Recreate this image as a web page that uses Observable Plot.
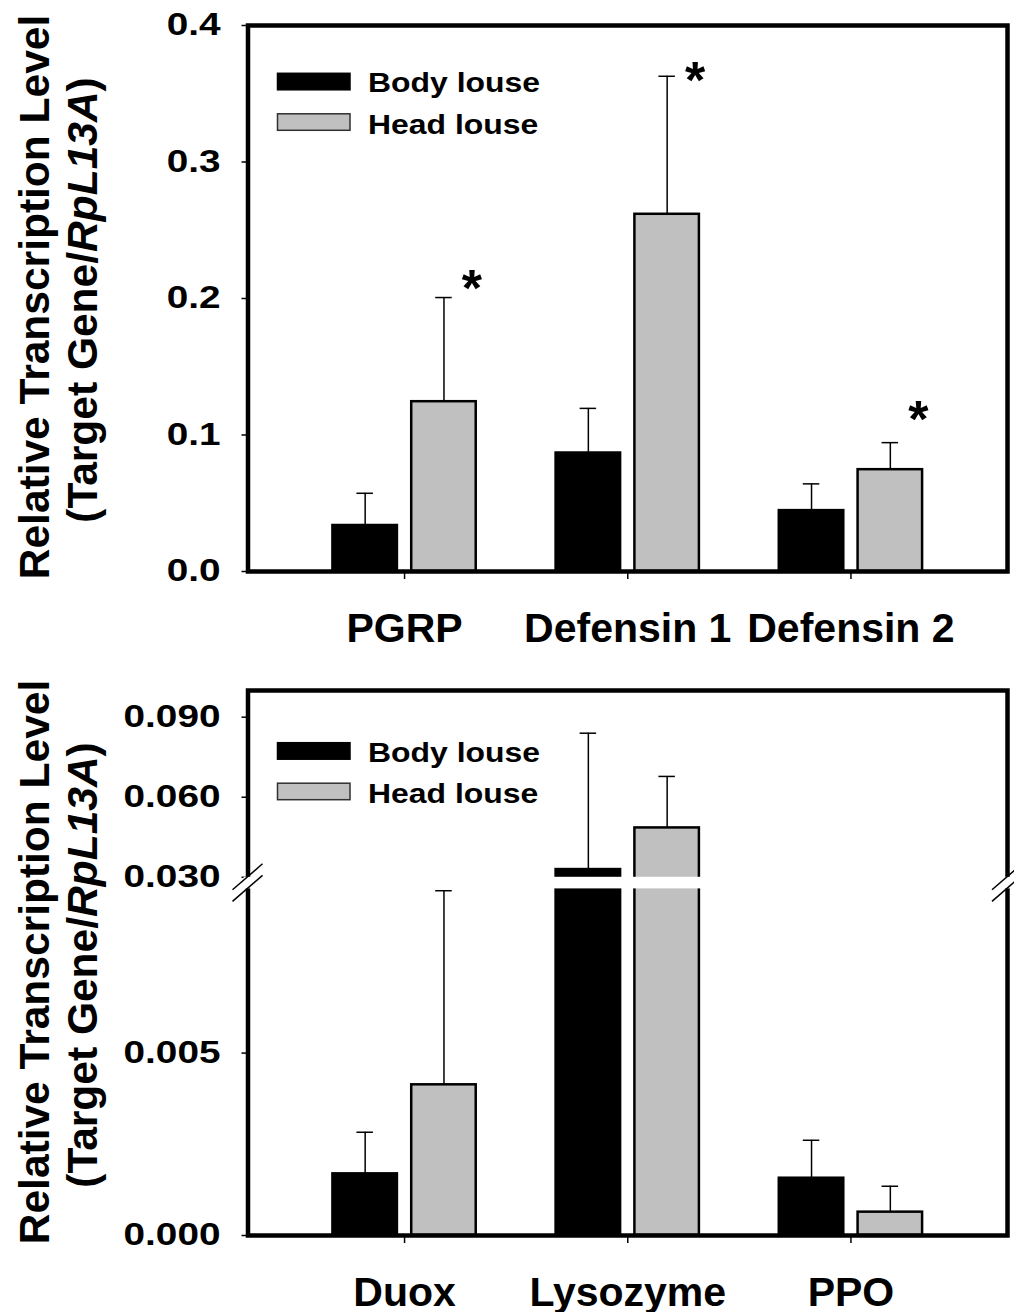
<!DOCTYPE html>
<html><head><meta charset="utf-8">
<script src="https://cdn.jsdelivr.net/npm/d3@7"></script>
<script src="https://cdn.jsdelivr.net/npm/@observablehq/plot@0.6"></script>
<style>
body{margin:0;background:#fff;}
#wrap{width:1014px;background:#fff;}
#wrap svg{display:block;}
</style></head><body><div id="wrap"></div>
<script>
const FONT = "'Liberation Sans', Arial, Helvetica, sans-serif";

// ---- data ----
const groups = ["Body louse", "Head louse"];
const groupColors = ["#000000", "#c0c0c0"];

const topGenes = ["PGRP", "Defensin 1", "Defensin 2"];
const topBody = [0.0337, 0.0868, 0.0446];
const topBodySE = [0.0236, 0.0327, 0.0196];
const topHead = [0.1244, 0.2617, 0.0746];
const topHeadSE = [0.0763, 0.1011, 0.0198];
const topSig = [0.2130, 0.3660, 0.1170];   // height of the significance asterisk
const topTicks = [0, 0.1, 0.2, 0.3, 0.4];

const botGenes = ["Duox", "Lysozyme", "PPO"];
const botBody = [0.00169, 0.0329, 0.00157];
const botBodySE = [0.00114, 0.0511, 0.00104];
const botHead = [0.00413, 0.0485, 0.00064];
const botHeadSE = [0.00532, 0.0193, 0.00071];
const botTicks = [0, 0.005, 0.03, 0.06, 0.09];
const botBreak = [0.0095, 0.03];           // broken axis: lower segment ends, upper segment starts
const botMax = 0.1;

function rows(genes, body, bodySE, head, headSE, sig) {
  const out = [];
  genes.forEach((g, i) => {
    out.push({gene: g, group: groups[0], value: body[i], se: bodySE[i], sig: null});
    out.push({gene: g, group: groups[1], value: head[i], se: headSE[i], sig: sig ? sig[i] : null});
  });
  return out;
}
const topData = rows(topGenes, topBody, topBodySE, topHead, topHeadSE, topSig);
const botData = rows(botGenes, botBody, botBodySE, botHead, botHeadSE, null);

// broken-axis mapping for the lower panel: lower segment kept as is,
// a thin gap for the break, upper segment compressed
const GAP = 0.000318, UPPER = 0.07314;
function brokenY(v) {
  const [b0, b1] = botBreak;
  if (v <= b0) return v;
  if (v < b1) return b0 + (v - b0) / (b1 - b0) * GAP;
  return b0 + GAP + (v - b1) * UPPER;
}

// ---- layout ----
const W = 1014;
const ML = 247.5, MR = 7;
const OFFSET = [-39.4, 39.4];   // horizontal shift of each series inside a gene group
const XS = {paddingInner: 0.711, paddingOuter: 0.557, round: false, label: null};

function groupMarks(data, f) {
  const marks = [];
  groups.forEach((g, i) => {
    const sub = data.filter(d => d.group === g);
    const dx = OFFSET[i];
    marks.push(
      Plot.ruleX(sub, {x: "gene", y1: d => f(d.value), y2: d => f(d.value + d.se), dx, stroke: "black", strokeWidth: 1.5}),
      Plot.tickY(sub, {x: "gene", y: d => f(d.value + d.se), dx, insetLeft: 24, insetRight: 24, stroke: "black", strokeWidth: 1.5}),
      Plot.barY(sub, {x: "gene", y1: 0, y2: d => f(d.value), dx, fill: "group", stroke: "black", strokeWidth: 2.5})
    );
  });
  return marks;
}
const xAxis = () => Plot.axisX({tickSize: 8, tickPadding: 33, fontSize: 41, strokeWidth: 1.5, label: null});

const topH = 655;
const topChart = Plot.plot({
  width: W, height: topH,
  marginLeft: ML, marginRight: MR, marginTop: 25, marginBottom: 84,
  style: {fontFamily: FONT, fontWeight: "bold", background: "white", overflow: "visible"},
  x: {...XS, domain: topGenes},
  y: {domain: [0, 0.4], label: null},
  color: {domain: groups, range: groupColors},
  marks: [
    ...groupMarks(topData, v => v),
    Plot.text(topData.filter(d => d.sig != null), {x: "gene", y: "sig", text: () => "*", fontSize: 52, dx: OFFSET[1] + 28, dy: 9, fill: "black"}),
    Plot.axisY({ticks: topTicks, tickFormat: ".1f", tickSize: 6, tickPadding: 21.5, fontSize: 31, strokeWidth: 1.5, label: null}),
    xAxis(),
    Plot.frame({stroke: "black", strokeWidth: 4.5})
  ]
});

const botH = 657;
const botTickLabel = new Map(botTicks.map(t => [brokenY(t), d3.format(".3f")(t)]));
const botChart = Plot.plot({
  width: W, height: botH,
  marginLeft: ML, marginRight: MR, marginTop: 35, marginBottom: 77,
  style: {fontFamily: FONT, fontWeight: "bold", background: "white", overflow: "visible"},
  x: {...XS, domain: botGenes},
  y: {domain: [0, brokenY(botMax)], label: null},
  color: {domain: groups, range: groupColors},
  marks: [
    ...groupMarks(botData, brokenY),
    // white gap through the bars that cross the axis break
    ...groups.map((g, i) => Plot.barY(botData.filter(d => d.group === g && d.value > botBreak[1]),
      {x: "gene", y1: brokenY(botBreak[0]), y2: brokenY(botBreak[1]), dx: OFFSET[i], fill: "white", insetLeft: -3, insetRight: -3})),
    Plot.axisY({ticks: botTicks.map(brokenY), tickFormat: u => botTickLabel.get(u), tickSize: 6, tickPadding: 21.5, fontSize: 31, strokeWidth: 1.5, label: null}),
    xAxis(),
    Plot.frame({stroke: "black", strokeWidth: 4.5})
  ]
});

const wrap = document.getElementById("wrap");
wrap.appendChild(topChart);
wrap.appendChild(botChart);

// ---- decorations ----
function stretch(svg, sel, s) {
  d3.select(svg).selectAll(sel).each(function () {
    const L = this.getComputedTextLength();
    if (L > 0) {
      this.setAttribute("textLength", L * s);
      this.setAttribute("lengthAdjust", "spacingAndGlyphs");
    }
  });
}

function yTitle(svg, cy) {
  const g = d3.select(svg).append("g")
    .attr("font-family", FONT).attr("font-weight", "bold").attr("font-size", 42.5)
    .attr("fill", "black").attr("text-anchor", "middle");
  g.append("text").attr("transform", `translate(49,${cy}) rotate(-90)`).text("Relative Transcription Level");
  const t2 = g.append("text").attr("transform", `translate(96.5,${cy + 3}) rotate(-90)`);
  t2.append("tspan").text("(Target Gene/");
  t2.append("tspan").attr("font-style", "italic").text("RpL13A");
  t2.append("tspan").text(")");
}

function legend(svg, chart, y0, textY0) {
  const color = chart.scale("color");
  const g = d3.select(svg).append("g").attr("font-family", FONT).attr("font-weight", "bold").attr("text-anchor", "start");
  groups.forEach((name, i) => {
    const y = y0 + i * 40.5;
    g.append("rect").attr("x", 277.5).attr("y", y).attr("width", 72.5).attr("height", 16.5)
      .attr("fill", color.apply(name)).attr("stroke", i === 0 ? "black" : "#303030").attr("stroke-width", 1.5);
    g.append("text").attr("transform", `translate(368,${textY0 + i * 41.5 + 10}) scale(1.12,1)`)
      .attr("font-size", 28.5).attr("fill", "black").text(name);
  });
}

function axisBreak(svg, chart) {
  const y = chart.scale("y");
  const yHi = y.apply(brokenY(botBreak[1])), yLo = y.apply(brokenY(botBreak[0]));
  const g = d3.select(svg).append("g");
  [ML, W - MR].forEach(x => {
    g.append("rect").attr("x", x - 4).attr("y", yHi).attr("width", 8).attr("height", yLo - yHi).attr("fill", "white");
    [yHi, yLo].forEach(yy => {
      g.append("line").attr("x1", x - 15).attr("y1", yy + 13).attr("x2", x + 15).attr("y2", yy - 13)
        .attr("stroke", "black").attr("stroke-width", 1.5);
    });
  });
}

stretch(topChart, 'g[aria-label="y-axis tick label"] text', 1.25);
stretch(botChart, 'g[aria-label="y-axis tick label"] text', 1.25);
yTitle(topChart, 297);
yTitle(botChart, 307);
legend(topChart, topChart, 73.3, 82);
legend(botChart, botChart, 87.7, 96.7);
axisBreak(botChart, botChart);
</script></body></html>
